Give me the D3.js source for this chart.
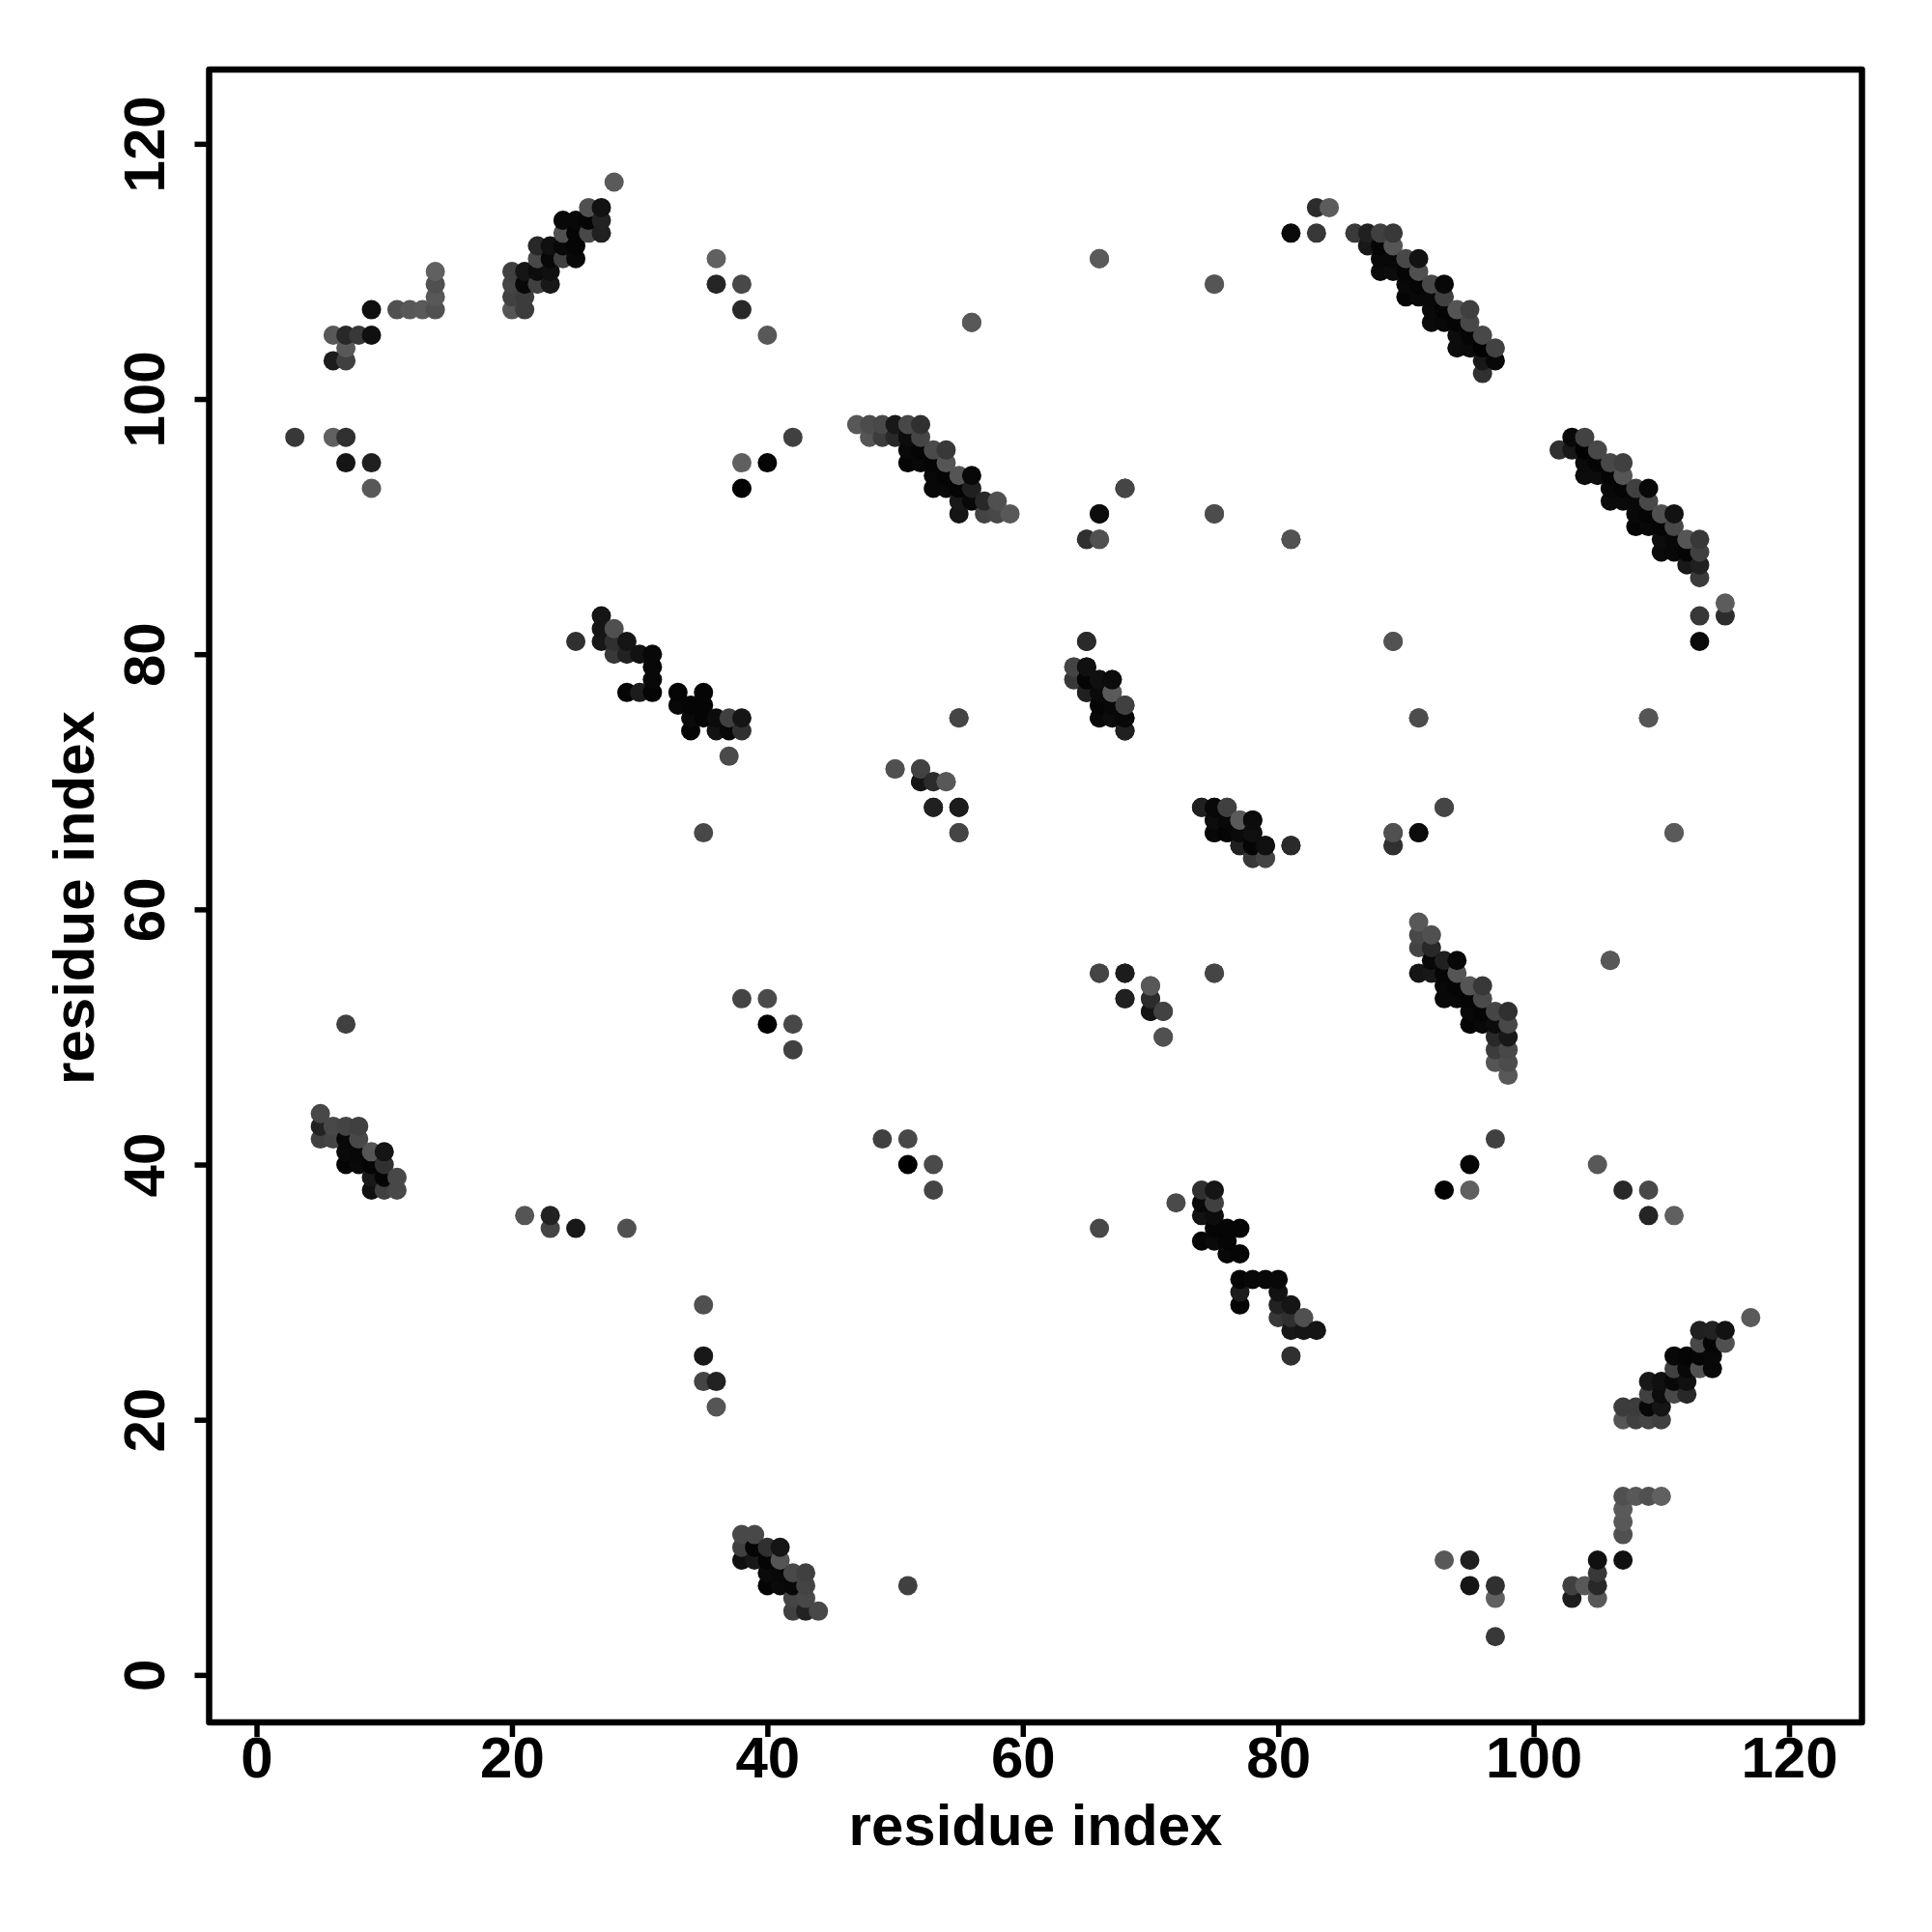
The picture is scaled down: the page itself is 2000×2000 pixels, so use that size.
<!DOCTYPE html>
<html><head><meta charset="utf-8">
<script src="https://cdn.jsdelivr.net/npm/d3@7/dist/d3.min.js"></script>
<style>html,body{margin:0;padding:0;background:#fff}svg{display:block}</style>
</head><body>
<svg id="c" width="2000" height="2000"></svg>
<script>
// Contact pairs [residue i, residue j, grey level] (i < j half of the symmetric map)
const helixA = [[5,44,0x48],[5,43,0x22],[5,42,0x40],[6,43,0x48],[6,42,0x44],[7,43,0x44],[7,42,0x08],[7,41,0x0a],[7,40,0x05],[8,43,0x40],[8,42,0x48],[8,41,0x08],[8,40,0x0a],[9,41,0x55],[9,40,0x05],[10,41,0x15],[10,40,0x30],[9,39,0x18],[10,39,0x05],[9,38,0x10],[10,38,0x40],[11,39,0x48],[11,38,0x48]];
const sheetB = [[28,117,0x5a],[26,115,0x50],[27,115,0x12],[24,114,0x08],[25,114,0x08],[26,114,0x05],[27,114,0x22],[24,113,0x50],[25,113,0x05],[26,113,0x48],[27,113,0x20],[22,112,0x28],[23,112,0x10],[24,112,0x08],[25,112,0x05],[22,111,0x48],[23,111,0x08],[24,111,0x40],[25,111,0x08],[20,110,0x40],[21,110,0x15],[22,110,0x0c],[23,110,0x10],[20,109,0x45],[21,109,0x08],[22,109,0x40],[23,109,0x18],[20,108,0x40],[21,108,0x3c],[20,107,0x55],[21,107,0x3c]];
const helixC = [[25,81,0x30],[27,83,0x15],[27,82,0x15],[27,81,0x18],[28,82,0x50],[28,81,0x30],[28,80,0x38],[29,81,0x15],[29,80,0x22],[30,80,0x12],[31,80,0x08],[31,79,0x08],[31,78,0x08],[31,77,0x05],[29,77,0x05],[30,77,0x1c],[33,77,0x05],[33,76,0x08],[35,77,0x05],[34,76,0x05],[35,76,0x05],[34,75,0x0a],[35,75,0x05],[34,74,0x05],[36,75,0x0c],[37,75,0x40],[38,75,0x15],[36,74,0x12],[37,74,0x08],[38,74,0x30],[37,72,0x4a]];
const helixD = [[47,98,0x58],[48,98,0x4c],[49,98,0x48],[50,98,0x18],[51,98,0x48],[52,98,0x30],[48,97,0x55],[49,97,0x3c],[50,97,0x28],[51,97,0x0c],[52,97,0x45],[51,96,0x08],[52,96,0x05],[53,96,0x4a],[54,96,0x38],[51,95,0x05],[52,95,0x08],[53,95,0x05],[54,95,0x55],[53,94,0x08],[54,94,0x05],[55,94,0x55],[56,94,0x08],[53,93,0x08],[54,93,0x08],[55,93,0x05],[56,93,0x20],[55,92,0x18],[56,92,0x08],[57,92,0x28],[58,92,0x50],[55,91,0x15],[57,91,0x44],[58,91,0x48],[59,91,0x58]];
const helixE = [[65,81,0x28],[64,79,0x50],[65,79,0x0a],[64,78,0x38],[65,78,0x05],[66,78,0x10],[67,78,0x08],[65,77,0x1a],[66,77,0x0c],[67,77,0x58],[66,76,0x0a],[67,76,0x05],[68,76,0x48],[66,75,0x0a],[67,75,0x10],[68,75,0x02],[68,74,0x1c]];
const helixF = [[74,68,0x20],[75,68,0x08],[76,68,0x40],[75,67,0x0c],[76,67,0x08],[77,67,0x5a],[78,67,0x0c],[75,66,0x08],[76,66,0x05],[77,66,0x0a],[78,66,0x10],[77,65,0x20],[78,65,0x05],[79,65,0x10],[81,65,0x2a],[78,64,0x38],[79,64,0x44]];
const helixG = [[86,113,0x3a],[87,113,0x20],[88,113,0x40],[89,113,0x38],[87,112,0x18],[88,112,0x05],[89,112,0x55],[88,111,0x08],[89,111,0x08],[90,111,0x48],[91,111,0x12],[88,110,0x0a],[89,110,0x0c],[90,110,0x05],[91,110,0x50],[90,109,0x08],[91,109,0x05],[92,109,0x48],[93,109,0x08],[90,108,0x05],[91,108,0x08],[92,108,0x08],[93,108,0x40],[92,107,0x0a],[93,107,0x05],[94,107,0x55],[95,107,0x40],[92,106,0x0a],[93,106,0x08],[94,106,0x05],[95,106,0x48],[94,105,0x0c],[95,105,0x05],[96,105,0x48],[94,104,0x0c],[95,104,0x0a],[96,104,0x02],[97,104,0x42],[96,103,0x18],[97,103,0x08],[96,102,0x30]];
const strayLow = [[7,51,0x40],[21,36,0x55],[23,36,0x22],[23,35,0x44],[25,35,0x18],[29,35,0x50],[35,66,0x48],[38,53,0x44],[40,53,0x4a],[40,51,0x00],[42,51,0x48],[42,49,0x40]];
const strayTopLeft = [[3,97,0x38],[6,97,0x60],[7,97,0x30],[7,95,0x15],[9,95,0x20],[9,93,0x58],[6,105,0x58],[7,105,0x28],[8,105,0x38],[9,105,0x10],[7,104,0x58],[6,103,0x1c],[7,103,0x40],[9,107,0x10],[11,107,0x50],[12,107,0x58],[13,107,0x5a],[14,107,0x50],[14,108,0x58],[14,109,0x50],[14,110,0x60]];
const strayTopMid = [[36,111,0x60],[36,109,0x25],[38,109,0x48],[38,107,0x28],[40,105,0x58],[38,95,0x60],[40,95,0x05],[38,93,0x02],[42,97,0x40],[56,106,0x55],[66,111,0x52],[75,109,0x55],[81,113,0x0a],[83,113,0x38],[83,115,0x2c],[84,115,0x5c],[66,91,0x12],[65,89,0x30],[66,89,0x4a],[68,93,0x40],[75,91,0x50],[81,89,0x55]];
const strayMid = [[50,71,0x58],[52,71,0x45],[52,70,0x15],[53,70,0x2c],[54,70,0x58],[53,68,0x20],[55,68,0x1c],[55,66,0x48],[55,75,0x45],[66,55,0x45],[68,55,0x1c],[68,53,0x20],[70,54,0x58],[70,53,0x2c],[70,52,0x15],[71,52,0x42],[71,50,0x50],[75,55,0x45],[89,81,0x52],[91,75,0x4c],[109,75,0x55],[93,68,0x45],[91,66,0x0c],[89,66,0x50],[89,65,0x30],[111,66,0x5a],[106,56,0x58]];
const tickValues = [0,20,40,60,80,100,120];
const xTitle = "residue index", yTitle = "residue index";

const half = [].concat(helixA,sheetB,helixC,helixD,helixE,helixF,helixG,strayLow,strayTopLeft,strayTopMid,strayMid);
// The map is symmetric: each contact (i,j) also appears as (j,i). Later x, then later y, paints on top.
const contacts = half.flatMap(([i,j,g]) => [{x:i,y:j,g},{x:j,y:i,g}])
  .sort((a,b) => d3.ascending(a.x,b.x) || d3.ascending(a.y,b.y));

const L=216.5,R=1927.5,T=72,B=1783;
const x = d3.scaleLinear().domain([-3.71,125.71]).range([L,R]);
const y = d3.scaleLinear().domain([-3.72,125.82]).range([B,T]);
const svg = d3.select("#c");
const FONT = '"Liberation Sans", Arial, sans-serif';

svg.append("g").selectAll("circle").data(contacts).join("circle")
  .attr("cx",d=>x(d.x)).attr("cy",d=>y(d.y)).attr("r",10)
  .attr("fill",d=>d3.rgb(d.g,d.g,d.g));

svg.append("rect").attr("x",L).attr("y",T).attr("width",R-L).attr("height",B-T)
  .attr("fill","none").attr("stroke","#000").attr("stroke-width",6.5).attr("stroke-linejoin","round");

const style = (g) => {
  g.select(".domain").remove();
  g.selectAll("line").attr("stroke","#000").attr("stroke-width",5.5);
  g.selectAll("text").attr("font-family",FONT).attr("font-weight","bold").attr("font-size",60).attr("fill","#000");
};
svg.append("g").attr("transform",`translate(0,${B})`)
  .call(d3.axisBottom(x).tickValues(tickValues).tickSize(15).tickPadding(0).tickFormat(d3.format("d")))
  .call(style)
  .call(g=>g.selectAll("text").attr("y",0).attr("dy",0).attr("transform","translate(0,57)"));
svg.append("g").attr("transform",`translate(${L},0)`)
  .call(d3.axisLeft(y).tickValues(tickValues).tickSize(15).tickPadding(0).tickFormat(d3.format("d")))
  .call(style)
  .call(g=>g.selectAll("text").attr("x",0).attr("dy",0).attr("text-anchor","middle")
     .attr("transform","translate(-46.5,0) rotate(-90)"));

svg.append("text").attr("x",(L+R)/2).attr("y",1910).attr("text-anchor","middle")
  .attr("font-family",FONT).attr("font-weight","bold").attr("font-size",60).text(xTitle);
svg.append("text").attr("transform",`translate(97,${(T+B)/2+2}) rotate(-90)`).attr("text-anchor","middle")
  .attr("font-family",FONT).attr("font-weight","bold").attr("font-size",60).text(yTitle);
</script>
</body></html>
